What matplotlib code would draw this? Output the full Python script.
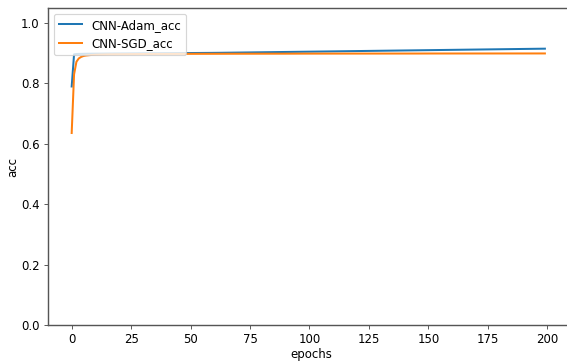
import matplotlib
matplotlib.use("Agg")
import matplotlib.pyplot as plt
import numpy as np

# accuracy per epoch for the two optimizers
adam_acc = [
    0.7900, 0.8965, 0.8975, 0.8979, 0.8981, 0.8983, 0.8984, 0.8985, 0.8986, 0.8987,
    0.8988, 0.8988, 0.8989, 0.8990, 0.8990, 0.8991, 0.8991, 0.8992, 0.8992, 0.8993,
    0.8993, 0.8994, 0.8994, 0.8995, 0.8995, 0.8996, 0.8996, 0.8997, 0.8997, 0.8998,
    0.8998, 0.8999, 0.8999, 0.9000, 0.9000, 0.9001, 0.9001, 0.9002, 0.9002, 0.9003,
    0.9003, 0.9004, 0.9004, 0.9005, 0.9005, 0.9006, 0.9006, 0.9007, 0.9007, 0.9008,
    0.9008, 0.9009, 0.9009, 0.9010, 0.9010, 0.9011, 0.9011, 0.9012, 0.9012, 0.9013,
    0.9013, 0.9014, 0.9015, 0.9016, 0.9017, 0.9018, 0.9019, 0.9020, 0.9021, 0.9022,
    0.9023, 0.9024, 0.9025, 0.9026, 0.9027, 0.9028, 0.9029, 0.9030, 0.9031, 0.9032,
    0.9033, 0.9034, 0.9035, 0.9036, 0.9037, 0.9038, 0.9039, 0.9040, 0.9041, 0.9042,
    0.9043, 0.9044, 0.9045, 0.9046, 0.9047, 0.9048, 0.9049, 0.9050, 0.9051, 0.9052,
    0.9053, 0.9054, 0.9055, 0.9056, 0.9057, 0.9058, 0.9059, 0.9060, 0.9061, 0.9062,
    0.9063, 0.9064, 0.9065, 0.9066, 0.9067, 0.9068, 0.9069, 0.9070, 0.9071, 0.9072,
    0.9073, 0.9074, 0.9075, 0.9076, 0.9077, 0.9078, 0.9079, 0.9080, 0.9081, 0.9082,
    0.9083, 0.9084, 0.9085, 0.9086, 0.9087, 0.9088, 0.9089, 0.9090, 0.9091, 0.9092,
    0.9093, 0.9094, 0.9095, 0.9096, 0.9097, 0.9098, 0.9099, 0.9100, 0.9101, 0.9102,
    0.9103, 0.9104, 0.9105, 0.9106, 0.9107, 0.9108, 0.9109, 0.9110, 0.9111, 0.9112,
    0.9113, 0.9114, 0.9115, 0.9116, 0.9117, 0.9118, 0.9119, 0.9120, 0.9121, 0.9122,
    0.9123, 0.9124, 0.9125, 0.9126, 0.9127, 0.9128, 0.9129, 0.9130, 0.9131, 0.9132,
    0.9133, 0.9134, 0.9135, 0.9136, 0.9137, 0.9138, 0.9139, 0.9140, 0.9141, 0.9142,
    0.9143, 0.9144, 0.9145, 0.9146, 0.9147, 0.9148, 0.9149, 0.9150, 0.9151, 0.9152,
]
sgd_acc = [
    0.6360, 0.8300, 0.8720, 0.8830, 0.8880, 0.8910, 0.8925, 0.8935, 0.8942, 0.8948,
    0.8952, 0.8955, 0.8958, 0.8960, 0.8962, 0.8964, 0.8965, 0.8966, 0.8967, 0.8968,
    0.8969, 0.8970, 0.8971, 0.8971, 0.8972, 0.8973, 0.8973, 0.8974, 0.8974, 0.8975,
    0.8975, 0.8976, 0.8976, 0.8976, 0.8977, 0.8977, 0.8977, 0.8978, 0.8978, 0.8978,
    0.8979, 0.8979, 0.8979, 0.8979, 0.8980, 0.8980, 0.8980, 0.8980, 0.8981, 0.8981,
    0.8981, 0.8981, 0.8981, 0.8982, 0.8982, 0.8982, 0.8982, 0.8982, 0.8983, 0.8983,
    0.8983, 0.8983, 0.8983, 0.8983, 0.8984, 0.8984, 0.8984, 0.8984, 0.8984, 0.8984,
    0.8985, 0.8985, 0.8985, 0.8985, 0.8985, 0.8985, 0.8985, 0.8986, 0.8986, 0.8986,
    0.8986, 0.8986, 0.8986, 0.8986, 0.8986, 0.8987, 0.8987, 0.8987, 0.8987, 0.8987,
    0.8987, 0.8987, 0.8987, 0.8987, 0.8988, 0.8988, 0.8988, 0.8988, 0.8988, 0.8988,
    0.8988, 0.8988, 0.8988, 0.8988, 0.8988, 0.8989, 0.8989, 0.8989, 0.8989, 0.8989,
    0.8989, 0.8989, 0.8989, 0.8989, 0.8989, 0.8989, 0.8989, 0.8990, 0.8990, 0.8990,
    0.8990, 0.8990, 0.8990, 0.8990, 0.8990, 0.8990, 0.8990, 0.8990, 0.8990, 0.8990,
    0.8990, 0.8991, 0.8991, 0.8991, 0.8991, 0.8991, 0.8991, 0.8991, 0.8991, 0.8991,
    0.8991, 0.8991, 0.8991, 0.8991, 0.8991, 0.8991, 0.8991, 0.8992, 0.8992, 0.8992,
    0.8992, 0.8992, 0.8992, 0.8992, 0.8992, 0.8992, 0.8992, 0.8992, 0.8992, 0.8992,
    0.8992, 0.8992, 0.8992, 0.8992, 0.8992, 0.8993, 0.8993, 0.8993, 0.8993, 0.8993,
    0.8993, 0.8993, 0.8993, 0.8993, 0.8993, 0.8993, 0.8993, 0.8993, 0.8993, 0.8993,
    0.8993, 0.8993, 0.8993, 0.8993, 0.8993, 0.8993, 0.8994, 0.8994, 0.8994, 0.8994,
    0.8994, 0.8994, 0.8994, 0.8994, 0.8994, 0.8994, 0.8994, 0.8994, 0.8994, 0.8994,
]
epochs = np.arange(len(adam_acc))

dpi = 85
fig = plt.figure(figsize=(567 / dpi, 362 / dpi), dpi=dpi)
# axes run a little past the right edge of the canvas
ax = fig.add_axes([0.0847, 0.102, 0.93, 0.876])
ax.plot(epochs, adam_acc, label="CNN-Adam_acc", lw=1.7)
ax.plot(epochs, sgd_acc, label="CNN-SGD_acc", lw=1.7)
ax.set_xlim(-9.95, 211.8)
ax.set_ylim(0, 1.05)
ax.set_xlabel("epochs", labelpad=1)
ax.set_ylabel("acc", labelpad=1.5)
ax.legend(loc="upper left")

# softer grey frame, right side falls off the canvas
for sp in ax.spines.values():
    sp.set_color("#555555")
    sp.set_linewidth(1.2)
ax.spines["right"].set_visible(False)
ax.tick_params(color="#555555")

fig.savefig("out.png", dpi=dpi)
